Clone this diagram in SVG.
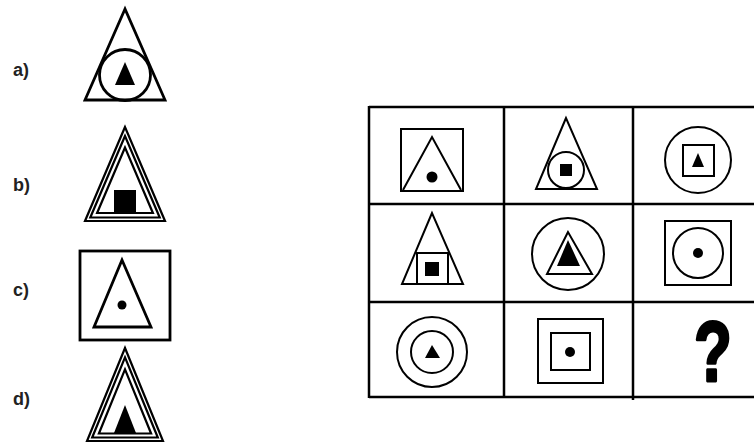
<svg xmlns="http://www.w3.org/2000/svg" width="754" height="442" viewBox="0 0 754 442">
<style>
.lbl{font-family:"Liberation Sans",Arial,sans-serif;font-weight:bold;font-size:18px;fill:#222}
.o{fill:none;stroke:#000;stroke-width:2.8;stroke-linejoin:miter}
.t{fill:none;stroke:#000;stroke-width:2.2;stroke-linejoin:miter}
.s{fill:none;stroke:#000;stroke-width:2}
.f{fill:#000;stroke:none}
.grid{stroke:#000;stroke-width:2.5;fill:none}
.q{font-family:"Liberation Sans",Arial,sans-serif;font-weight:bold;font-size:86px;fill:#000;stroke:#000;stroke-width:3;stroke-linejoin:round}
</style>
<rect width="754" height="442" fill="#fff"/>
<g id="labels">
<text class="lbl" x="13" y="76">a)</text>
<text class="lbl" x="13" y="191">b)</text>
<text class="lbl" x="13" y="296">c)</text>
<text class="lbl" x="13" y="405">d)</text>
</g>
<g id="option-a">
<polygon class="o" points="125,9 85,100 165,100"/>
<circle class="o" cx="125" cy="75" r="25.5"/>
<polygon class="f" points="125,62 115,85 135,85"/>
</g>
<g id="option-b">
<polygon class="t" points="125,127 85,221 165,221"/>
<polygon class="t" points="125,136 90.3,217.5 159.7,217.5"/>
<polygon class="t" points="125,147.5 97.1,213 152.9,213"/>
<rect class="f" x="114" y="190" width="22" height="22"/>
</g>
<g id="option-c">
<rect class="o" x="80" y="251" width="90" height="89"/>
<polygon class="o" points="122,260 94,327 151,327"/>
<circle class="f" cx="122" cy="305" r="4.5"/>
</g>
<g id="option-d">
<polygon class="t" points="125,348 87,441 163,441"/>
<polygon class="t" points="125,357.4 92.2,437.5 157.8,437.5"/>
<polygon class="t" points="125,369.4 98.9,433.5 151.1,433.5"/>
<polygon class="f" points="125,405 114,433 136,433"/>
</g>
<g id="grid">
<line class="grid" x1="369" y1="107" x2="760" y2="107"/>
<line class="grid" x1="369" y1="204" x2="760" y2="204"/>
<line class="grid" x1="369" y1="302" x2="760" y2="302" stroke-width="3.5"/>
<line class="grid" x1="369" y1="397" x2="760" y2="397"/>
<line class="grid" x1="369" y1="106" x2="369" y2="398"/>
<line class="grid" x1="504" y1="106" x2="504" y2="398"/>
<line class="grid" x1="633" y1="106" x2="633" y2="400"/>
</g>
<g id="cell-1-1">
<rect class="s" x="401" y="129" width="62" height="62"/>
<polyline class="s" points="403,190 432,137 461,190"/>
<circle class="f" cx="432" cy="177" r="5.5"/>
</g>
<g id="cell-1-2">
<polygon class="s" points="566,118 536,189 597,189"/>
<circle class="s" cx="566" cy="170" r="18"/>
<rect class="f" x="560" y="164" width="12" height="12"/>
</g>
<g id="cell-1-3">
<circle class="s" cx="698" cy="160" r="33"/>
<rect class="s" x="683" y="145" width="31" height="31"/>
<polygon class="f" points="698,153 692,167 704,167"/>
</g>
<g id="cell-2-1">
<polygon class="s" points="432,213 402,284 463,284"/>
<rect class="s" x="417" y="253" width="31" height="31"/>
<rect class="f" x="425" y="262" width="14" height="14"/>
</g>
<g id="cell-2-2">
<circle class="s" cx="568" cy="254" r="36"/>
<polygon class="s" points="568,232 547,274 592,274"/>
<polygon class="f" points="568,240 557,266 580,266"/>
</g>
<g id="cell-2-3">
<rect class="s" x="665" y="221" width="66" height="64"/>
<circle class="s" cx="698" cy="253" r="25"/>
<circle class="f" cx="698" cy="253" r="5"/>
</g>
<g id="cell-3-1">
<circle class="s" cx="432" cy="352" r="35"/>
<circle class="s" cx="432" cy="352" r="21"/>
<polygon class="f" points="432,345 425,358 440,358"/>
</g>
<g id="cell-3-2">
<rect class="s" x="538" y="319" width="65" height="64"/>
<rect class="s" x="551" y="333" width="39" height="37"/>
<circle class="f" cx="570" cy="352" r="5"/>
</g>
<g id="cell-3-3">
<text class="q" text-anchor="middle" transform="translate(713,381) scale(0.72,1)">?</text>
</g>
</svg>
